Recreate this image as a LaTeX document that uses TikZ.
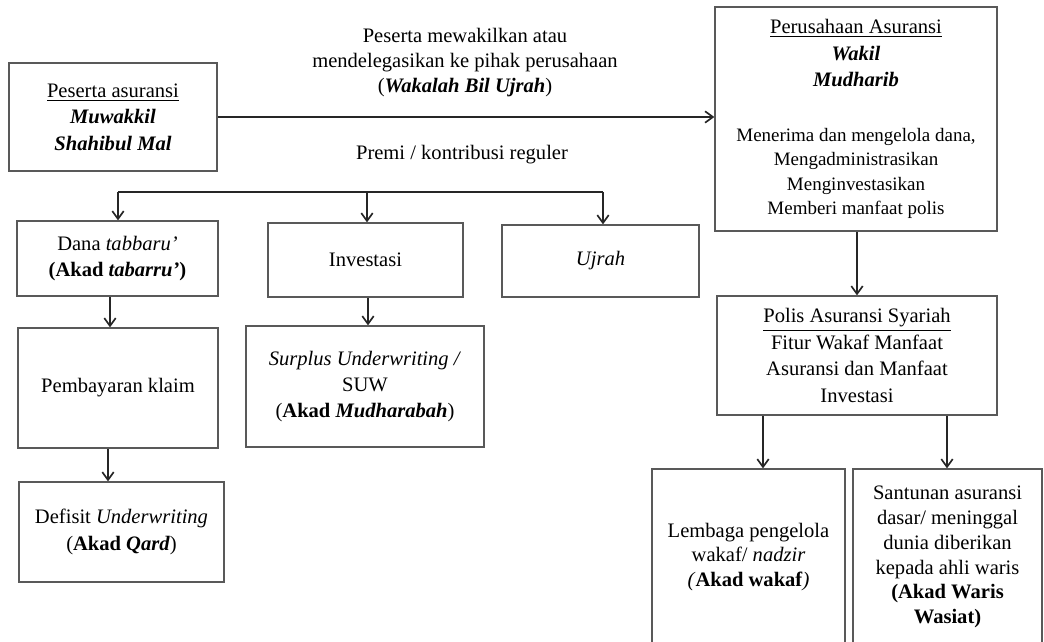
\documentclass[tikz,border=0pt]{standalone}
\usepackage{fontspec}
\setmainfont{Liberation Serif}
\usetikzlibrary{arrows.meta,backgrounds}
\pgfdeclarelayer{edgelayer}
\pgfdeclarelayer{nodelayer}
\pgfsetlayers{edgelayer,nodelayer,main}
\newcommand{\tbig}[1]{{\fontsize{11.7}{13.8}\selectfont #1}}
\tikzset{font=\fontsize{11.7}{15}\selectfont}
\tikzstyle{none}=[inner sep=0pt,align=center,font=\fontsize{11.7}{14.2}\selectfont]
\tikzstyle{box}=[draw=black!65,line width=0.7pt,align=center,inner sep=2pt]
\tikzstyle{tight}=[font=\fontsize{11.7}{14.1}\selectfont]
\tikzstyle{edge}=[line width=0.95pt,black!85]
\tikzstyle{arr}=[edge,-{Straight Barb[length=4.5pt,width=6.5pt]}]

\begin{document}
\begin{tikzpicture}
	\useasboundingbox (0,0) rectangle (20.88,-12.82);
	\begin{pgfonlayer}{nodelayer}
		\node [style=box, minimum width=4.16cm, minimum height=2.16cm] (0) at (2.26, -2.34) {\underline{Peserta asuransi}\\\textbf{\textit{Muwakkil}}\\\textbf{\textit{Shahibul Mal}}};
		\node [style=box, minimum width=5.64cm, minimum height=4.48cm, font=\fontsize{10.8}{13.8}\selectfont] (1) at (17.12, -2.38) {\tbig{\underline{Perusahaan Asuransi}}\\[1.2pt]\tbig{\textbf{\textit{Wakil}}}\\[1.2pt]\tbig{\textbf{\textit{Mudharib}}}\\[17.4pt]Menerima dan mengelola dana,\\Mengadministrasikan\\Menginvestasikan\\Memberi manfaat polis};
		\node [style=box, minimum width=4.02cm, minimum height=1.5cm] (2) at (2.35, -5.17) {Dana \textit{tabbaru'}\\\textbf{(Akad \textit{tabarru'})}};
		\node [style=box, minimum width=3.9cm, minimum height=1.48cm] (3) at (7.31, -5.2) {Investasi};
		\node [style=box, minimum width=3.94cm, minimum height=1.44cm] (4) at (12.01, -5.22) {\textit{Ujrah}};
		\node [style=box, minimum width=4cm, minimum height=2.4cm] (5) at (2.36, -7.76) {Pembayaran klaim};
		\node [style=box, minimum width=4.76cm, minimum height=2.42cm] (6) at (7.3, -7.73) {\textit{Surplus Underwriting /}\\SUW\\(\textbf{Akad \textit{Mudharabah}})};
		\node [style=box, minimum width=4.1cm, minimum height=2cm] (7) at (2.43, -10.64) {Defisit \textit{Underwriting}\\(\textbf{Akad \textit{Qard}})};
		\node [style=box, minimum width=5.6cm, minimum height=2.38cm] (8) at (17.14, -7.11) {\underline{Polis Asuransi Syariah}\\Fitur Wakaf Manfaat\\Asuransi dan Manfaat\\Investasi};
		\node [style=box, style=tight, minimum width=3.86cm, minimum height=3.52cm] (9) at (14.97, -11.14) {Lembaga pengelola\\wakaf/ \textit{nadzir}\\\textit{(}\textbf{Akad wakaf}\textit{)}};
		\node [style=box, style=tight, minimum width=3.78cm, minimum height=3.52cm] (10) at (18.95, -11.14) {Santunan asuransi\\dasar/ meninggal\\dunia diberikan\\kepada ahli waris\\\textbf{(Akad Waris}\\\textbf{Wasiat)}};
		\node [style=none] (11) at (9.3, -1.26) {Peserta mewakilkan atau\\mendelegasikan ke pihak perusahaan\\(\textbf{\textit{Wakalah Bil Ujrah}})};
		\node [style=none] (12) at (9.24, -3.1) {Premi / kontribusi reguler};
		\coordinate (13) at (2.36, -3.84);
		\coordinate (14) at (12.06, -3.84);
	\end{pgfonlayer}
	\begin{pgfonlayer}{edgelayer}
		\draw [style=arr] (0.east) to (0.east -| 1.west);
		\draw [style=edge] (13) to (14);
		\draw [style=arr] (13) to (13 |- 2.north);
		\draw [style=arr] ([xshift=0.03cm]13 -| 3) to ([xshift=0.03cm]3.north);
		\draw [style=arr] (14) to (14 |- 4.north);
		\draw [style=arr] ([xshift=-0.15cm]2.south) to ([xshift=-0.15cm]2.south |- 5.north);
		\draw [style=arr] ([xshift=-0.2cm]5.south) to ([xshift=-0.2cm]5.south |- 7.north);
		\draw [style=arr] ([xshift=0.06cm]3.south -| 6) to ([xshift=0.06cm]6.north);
		\draw [style=arr] (1.south -| 8) to (8.north);
		\draw [style=arr] ([xshift=-1.88cm]8.south) to ([xshift=-1.88cm]8.south |- 9.north);
		\draw [style=arr] ([xshift=-0.01cm]8.south -| 10) to ([xshift=-0.01cm]10.north);
	\end{pgfonlayer}
\end{tikzpicture}
\end{document}
